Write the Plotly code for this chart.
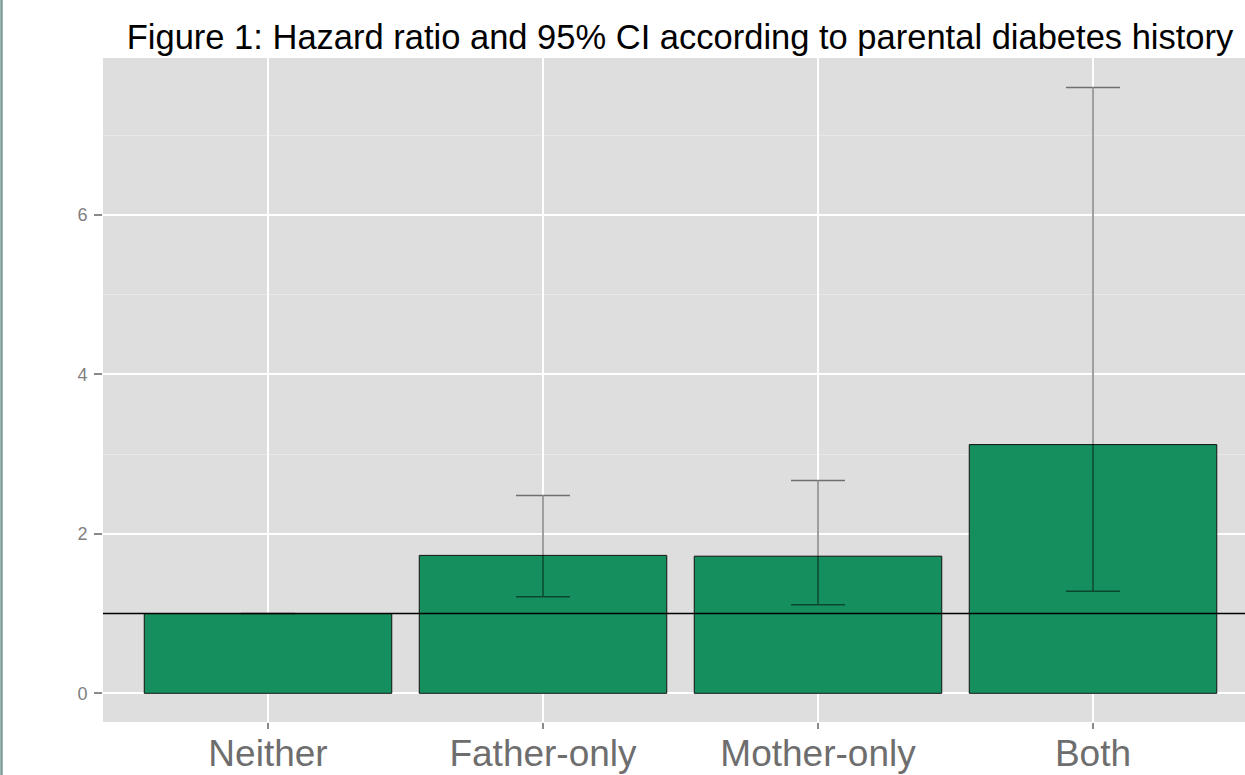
import plotly.graph_objects as go

categories = ["Neither", "Father-only", "Mother-only", "Both"]
hazard_ratio = [1.0, 1.73, 1.72, 3.12]
ci_lower = [1.0, 1.21, 1.11, 1.28]
ci_upper = [1.0, 2.48, 2.67, 7.60]
y_ticks = [0, 2, 4, 6]
title_text = "Figure 1: Hazard ratio and 95% CI according to parental diabetes history"

W, H = 1245, 775
ML, MR, MT, MB = 103, 0, 58, 53
FONT = "Liberation Sans, Arial, Helvetica, sans-serif"

err_plus = [u - v for u, v in zip(ci_upper, hazard_ratio)]
err_minus = [v - l for v, l in zip(hazard_ratio, ci_lower)]

fig = go.Figure()
fig.add_trace(go.Bar(
    x=categories, y=hazard_ratio, width=0.9,
    marker=dict(color="#168F5E", line=dict(color="#111111", width=1)),
    error_y=dict(type="data", symmetric=False, array=err_plus, arrayminus=err_minus,
                 color="rgba(0,0,0,0.5)", thickness=1.5, width=27),
    showlegend=False,
))

fig.add_shape(type="line", xref="paper", yref="y", x0=0, x1=1, y0=1, y1=1,
              line=dict(color="black", width=1.5), layer="above")

pw = W - ML - MR
ph = H - MT - MB
fig.add_shape(type="line", xref="paper", yref="paper",
              x0=(1.5 - ML) / pw, x1=(1.5 - ML) / pw, y0=-MB / ph, y1=1 + MT / ph,
              line=dict(color="#7E9C9A", width=2.5))

fig.update_layout(
    width=W, height=H,
    margin=dict(l=ML, r=MR, t=MT, b=MB, autoexpand=False),
    paper_bgcolor="white", plot_bgcolor="#DEDEDE",
    font=dict(family=FONT),
    bargap=0.1,
    title=dict(text=title_text, x=(680 - ML) / pw, xref="paper", xanchor="center",
               y=1 - 37 / H, yref="container", yanchor="middle",
               font=dict(size=34.5, color="black", family=FONT)),
    xaxis=dict(range=[-0.6, 3 + (1245 - 1093) / 275], showgrid=True, gridcolor="white", gridwidth=2,
               ticks="outside", ticklen=6, tickcolor="#8A8A8A", tickwidth=1.5, automargin=False,
               ticklabelstandoff=-7,
               tickfont=dict(size=37, color="#6E6E6E"), zeroline=False, showline=False, fixedrange=True),
    yaxis=dict(range=[-0.36, 7.97], tickvals=y_ticks, showgrid=True, gridcolor="white", gridwidth=2,
               ticks="outside", ticklen=8, tickcolor="#8A8A8A", tickwidth=1.5, automargin=False,
               ticklabelstandoff=3,
               tickfont=dict(size=18, color="#7F7F7F"), zeroline=False, showline=False,
               minor=dict(dtick=1, tick0=0, showgrid=True, gridcolor="#E8E8E8", gridwidth=1, ticks=""),
               fixedrange=True),
)

fig.write_html("out.html", config={"displayModeBar": False},
               post_script="document.body.style.margin='0';document.body.style.overflow='hidden';")
